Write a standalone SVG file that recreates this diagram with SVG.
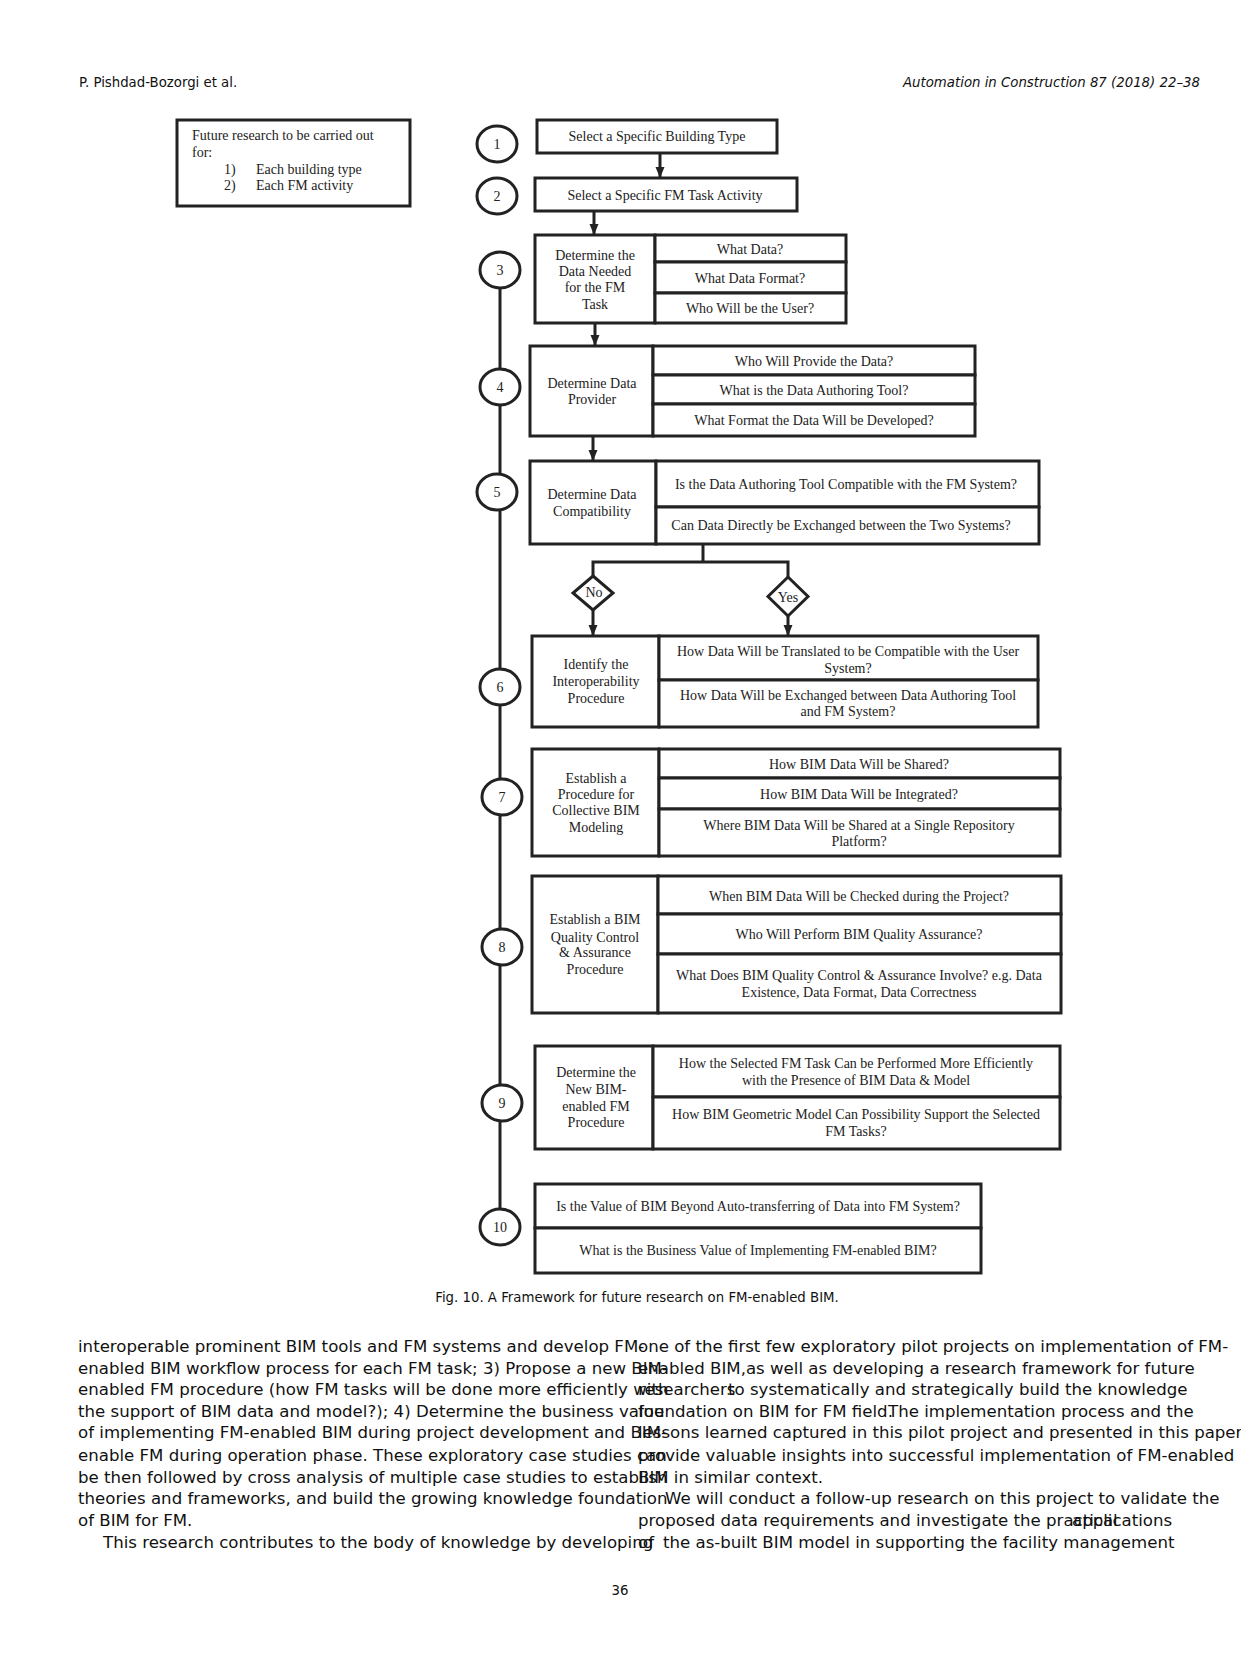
<svg xmlns="http://www.w3.org/2000/svg" width="1241" height="1654" viewBox="0 0 1241 1654">
<defs>
<style>
.bx{fill:#fff;stroke:#222;stroke-width:3}
.cir{fill:#fff;stroke:#222;stroke-width:3}
.ln{fill:none;stroke:#222;stroke-width:3}
.t{font-family:"Liberation Serif","Times New Roman",serif;font-size:14px;fill:#222;text-anchor:middle}
.tl{font-family:"Liberation Serif","Times New Roman",serif;font-size:14px;fill:#222}
.hd{font-family:"DejaVu Sans",sans-serif;font-size:13.3px;fill:#111}
.body{font-family:"DejaVu Sans",sans-serif;font-size:16.6px;fill:#111}
</style>
<marker id="ah" markerUnits="userSpaceOnUse" markerWidth="12" markerHeight="10" refX="11" refY="4.5" orient="auto">
<path d="M0,0 L11,4.5 L0,9 z" fill="#222"/>
</marker>
</defs>
<rect width="1241" height="1654" fill="#fff"/>

<text class="hd" x="79" y="87">P. Pishdad-Bozorgi et al.</text>
<text class="hd" x="1200" y="87" text-anchor="end" font-style="italic">Automation in Construction 87 (2018) 22–38</text>

<g id="connectors">
<line class="ln" x1="500" y1="287" x2="500" y2="1209"/>
<line class="ln" x1="660" y1="153" x2="660" y2="178" marker-end="url(#ah)"/>
<line class="ln" x1="594" y1="211" x2="594" y2="235" marker-end="url(#ah)"/>
<line class="ln" x1="595" y1="323" x2="595" y2="346" marker-end="url(#ah)"/>
<line class="ln" x1="593" y1="436" x2="593" y2="461" marker-end="url(#ah)"/>
<polyline class="ln" points="703,544 703,562"/>
<polyline class="ln" points="593,576 593,562 788,562 788,577"/>
<line class="ln" x1="593" y1="610" x2="593" y2="636" marker-end="url(#ah)"/>
<line class="ln" x1="788" y1="616" x2="788" y2="636" marker-end="url(#ah)"/>
</g>

<g id="note">
<rect class="bx" x="177" y="120" width="233" height="86"/>
<text class="tl" x="192" y="140">Future research to be carried out</text>
<text class="tl" x="192" y="157">for:</text>
<text class="tl" x="224" y="174">1)</text>
<text class="tl" x="256" y="174">Each building type</text>
<text class="tl" x="224" y="190">2)</text>
<text class="tl" x="256" y="190">Each FM activity</text>
</g>

<g id="c1"><ellipse class="cir" cx="497" cy="144" rx="20" ry="18"/><text class="t" x="497" y="149">1</text></g>
<g id="c2"><ellipse class="cir" cx="497" cy="196" rx="20" ry="18"/><text class="t" x="497" y="201">2</text></g>
<g id="c3"><ellipse class="cir" cx="500" cy="270" rx="20" ry="18"/><text class="t" x="500" y="275">3</text></g>
<g id="c4"><ellipse class="cir" cx="500" cy="387" rx="20" ry="18"/><text class="t" x="500" y="392">4</text></g>
<g id="c5"><ellipse class="cir" cx="497" cy="492" rx="20" ry="18"/><text class="t" x="497" y="497">5</text></g>
<g id="c6"><ellipse class="cir" cx="500" cy="687" rx="20" ry="18"/><text class="t" x="500" y="692">6</text></g>
<g id="c7"><ellipse class="cir" cx="502" cy="797" rx="20" ry="18"/><text class="t" x="502" y="802">7</text></g>
<g id="c8"><ellipse class="cir" cx="502" cy="947" rx="20" ry="18"/><text class="t" x="502" y="952">8</text></g>
<g id="c9"><ellipse class="cir" cx="502" cy="1103" rx="20" ry="18"/><text class="t" x="502" y="1108">9</text></g>
<g id="c10"><ellipse class="cir" cx="500" cy="1227" rx="20" ry="18"/><text class="t" x="500" y="1232">10</text></g>

<g id="step1">
<rect class="bx" x="537" y="120" width="240" height="33"/>
<text class="t" x="657" y="141">Select a Specific Building Type</text>
</g>

<g id="step2">
<rect class="bx" x="535" y="178" width="262" height="33"/>
<text class="t" x="665" y="200">Select a Specific FM Task Activity</text>
</g>

<g id="step3">
<rect class="bx" x="535" y="235" width="120" height="88"/>
<rect class="bx" x="655" y="235" width="191" height="27"/>
<rect class="bx" x="655" y="262" width="191" height="31"/>
<rect class="bx" x="655" y="293" width="191" height="30"/>
<text class="t" x="595" y="260">Determine the</text>
<text class="t" x="595" y="276">Data Needed</text>
<text class="t" x="595" y="292">for the FM</text>
<text class="t" x="595" y="309">Task</text>
<text class="t" x="750" y="254">What Data?</text>
<text class="t" x="750" y="283">What Data Format?</text>
<text class="t" x="750" y="313">Who Will be the User?</text>
</g>

<g id="step4">
<rect class="bx" x="530" y="346" width="123" height="90"/>
<rect class="bx" x="653" y="346" width="322" height="29"/>
<rect class="bx" x="653" y="375" width="322" height="29"/>
<rect class="bx" x="653" y="404" width="322" height="32"/>
<text class="t" x="592" y="388">Determine Data</text>
<text class="t" x="592" y="404">Provider</text>
<text class="t" x="814" y="366">Who Will Provide the Data?</text>
<text class="t" x="814" y="395">What is the Data Authoring Tool?</text>
<text class="t" x="814" y="425">What Format the Data Will be Developed?</text>
</g>

<g id="step5">
<rect class="bx" x="530" y="461" width="126" height="83"/>
<rect class="bx" x="656" y="461" width="383" height="46"/>
<rect class="bx" x="656" y="507" width="383" height="37"/>
<text class="t" x="592" y="499">Determine Data</text>
<text class="t" x="592" y="516">Compatibility</text>
<text class="t" x="846" y="489">Is the Data Authoring Tool Compatible with the FM System?</text>
<text class="t" x="841" y="530">Can Data Directly be Exchanged between the Two Systems?</text>
</g>

<g id="no">
<polygon class="bx" points="593,576 613,593 593,610 573,593"/>
<text class="t" x="594" y="597">No</text>
</g>
<g id="yes">
<polygon class="bx" points="788,577 808,596.5 788,616 768,596.5"/>
<text class="t" x="788" y="602">Yes</text>
</g>

<g id="step6">
<rect class="bx" x="532" y="636" width="127" height="91"/>
<rect class="bx" x="659" y="636" width="379" height="44"/>
<rect class="bx" x="659" y="680" width="379" height="47"/>
<text class="t" x="596" y="669">Identify the</text>
<text class="t" x="596" y="686">Interoperability</text>
<text class="t" x="596" y="703">Procedure</text>
<text class="t" x="848" y="656">How Data Will be Translated to be Compatible with the User</text>
<text class="t" x="848" y="673">System?</text>
<text class="t" x="848" y="700">How Data Will be Exchanged between Data Authoring Tool</text>
<text class="t" x="848" y="716">and FM System?</text>
</g>

<g id="step7">
<rect class="bx" x="532" y="749" width="127" height="107"/>
<rect class="bx" x="659" y="749" width="401" height="29"/>
<rect class="bx" x="659" y="778" width="401" height="31"/>
<rect class="bx" x="659" y="809" width="401" height="47"/>
<text class="t" x="596" y="783">Establish a</text>
<text class="t" x="596" y="799">Procedure for</text>
<text class="t" x="596" y="815">Collective BIM</text>
<text class="t" x="596" y="832">Modeling</text>
<text class="t" x="859" y="769">How BIM Data Will be Shared?</text>
<text class="t" x="859" y="799">How BIM Data Will be Integrated?</text>
<text class="t" x="859" y="830">Where BIM Data Will be Shared at a Single Repository</text>
<text class="t" x="859" y="846">Platform?</text>
</g>

<g id="step8">
<rect class="bx" x="532" y="876" width="126" height="137"/>
<rect class="bx" x="658" y="876" width="403" height="38"/>
<rect class="bx" x="658" y="914" width="403" height="40"/>
<rect class="bx" x="658" y="954" width="403" height="59"/>
<text class="t" x="595" y="924">Establish a BIM</text>
<text class="t" x="595" y="942">Quality Control</text>
<text class="t" x="595" y="957">&amp; Assurance</text>
<text class="t" x="595" y="974">Procedure</text>
<text class="t" x="859" y="901">When BIM Data Will be Checked during the Project?</text>
<text class="t" x="859" y="939">Who Will Perform BIM Quality Assurance?</text>
<text class="t" x="859" y="980">What Does BIM Quality Control &amp; Assurance Involve? e.g. Data</text>
<text class="t" x="859" y="997">Existence, Data Format, Data Correctness</text>
</g>

<g id="step9">
<rect class="bx" x="535" y="1046" width="118" height="103"/>
<rect class="bx" x="653" y="1046" width="407" height="51"/>
<rect class="bx" x="653" y="1097" width="407" height="52"/>
<text class="t" x="596" y="1077">Determine the</text>
<text class="t" x="596" y="1094">New BIM-</text>
<text class="t" x="596" y="1111">enabled FM</text>
<text class="t" x="596" y="1127">Procedure</text>
<text class="t" x="856" y="1068">How the Selected FM Task Can be Performed More Efficiently</text>
<text class="t" x="856" y="1085">with the Presence of BIM Data &amp; Model</text>
<text class="t" x="856" y="1119">How BIM Geometric Model Can Possibility Support the Selected</text>
<text class="t" x="856" y="1136">FM Tasks?</text>
</g>

<g id="step10">
<rect class="bx" x="535" y="1184" width="446" height="44"/>
<rect class="bx" x="535" y="1228" width="446" height="45"/>
<text class="t" x="758" y="1211">Is the Value of BIM Beyond Auto-transferring of Data into FM System?</text>
<text class="t" x="758" y="1255">What is the Business Value of Implementing FM-enabled BIM?</text>
</g>

<text class="hd" x="637" y="1302" text-anchor="middle">Fig. 10. A Framework for future research on FM-enabled BIM.</text>

<g id="body">
<text class="body" x="78" y="1352">interoperable prominent BIM tools and FM systems and develop FM-</text>
<text class="body" x="78" y="1374">enabled BIM workflow process for each FM task; 3) Propose a new BIM-</text>
<text class="body" x="78" y="1395">enabled FM procedure (how FM tasks will be done more efficiently with</text>
<text class="body" x="78" y="1417">the support of BIM data and model?); 4) Determine the business value</text>
<text class="body" x="78" y="1438">of implementing FM-enabled BIM during project development and BIM-</text>
<text class="body" x="78" y="1461">enable FM during operation phase. These exploratory case studies can</text>
<text class="body" x="78" y="1483">be then followed by cross analysis of multiple case studies to establish</text>
<text class="body" x="78" y="1504">theories and frameworks, and build the growing knowledge foundation</text>
<text class="body" x="78" y="1526">of BIM for FM.</text>
<text class="body" x="103" y="1548">This research contributes to the body of knowledge by developing</text>
<text class="body" x="638" y="1352">one of the first few exploratory pilot projects on implementation of FM-</text>
<text class="body" x="638" y="1374">enabled BIM,as well as developing a research framework for future</text>
<text class="body" x="638" y="1395">researchers</text>
<text class="body" x="728" y="1395">to systematically and strategically build the knowledge</text>
<text class="body" x="638" y="1417">foundation on BIM for FM field.</text>
<text class="body" x="888" y="1417">The implementation process and the</text>
<text class="body" x="638" y="1438">lessons learned captured in this pilot project and presented in this paper</text>
<text class="body" x="638" y="1461">provide valuable insights into successful implementation of FM-enabled</text>
<text class="body" x="638" y="1483">BIM in similar context.</text>
<text class="body" x="665" y="1504">We will conduct a follow-up research on this project to validate the</text>
<text class="body" x="638" y="1526">proposed data requirements and investigate the practical</text>
<text class="body" x="1072" y="1526">applications</text>
<text class="body" x="638" y="1548">of</text>
<text class="body" x="663" y="1548">the as-built BIM model  in supporting the facility management</text>
</g>

<text class="hd" x="620" y="1595" text-anchor="middle">36</text>
</svg>
